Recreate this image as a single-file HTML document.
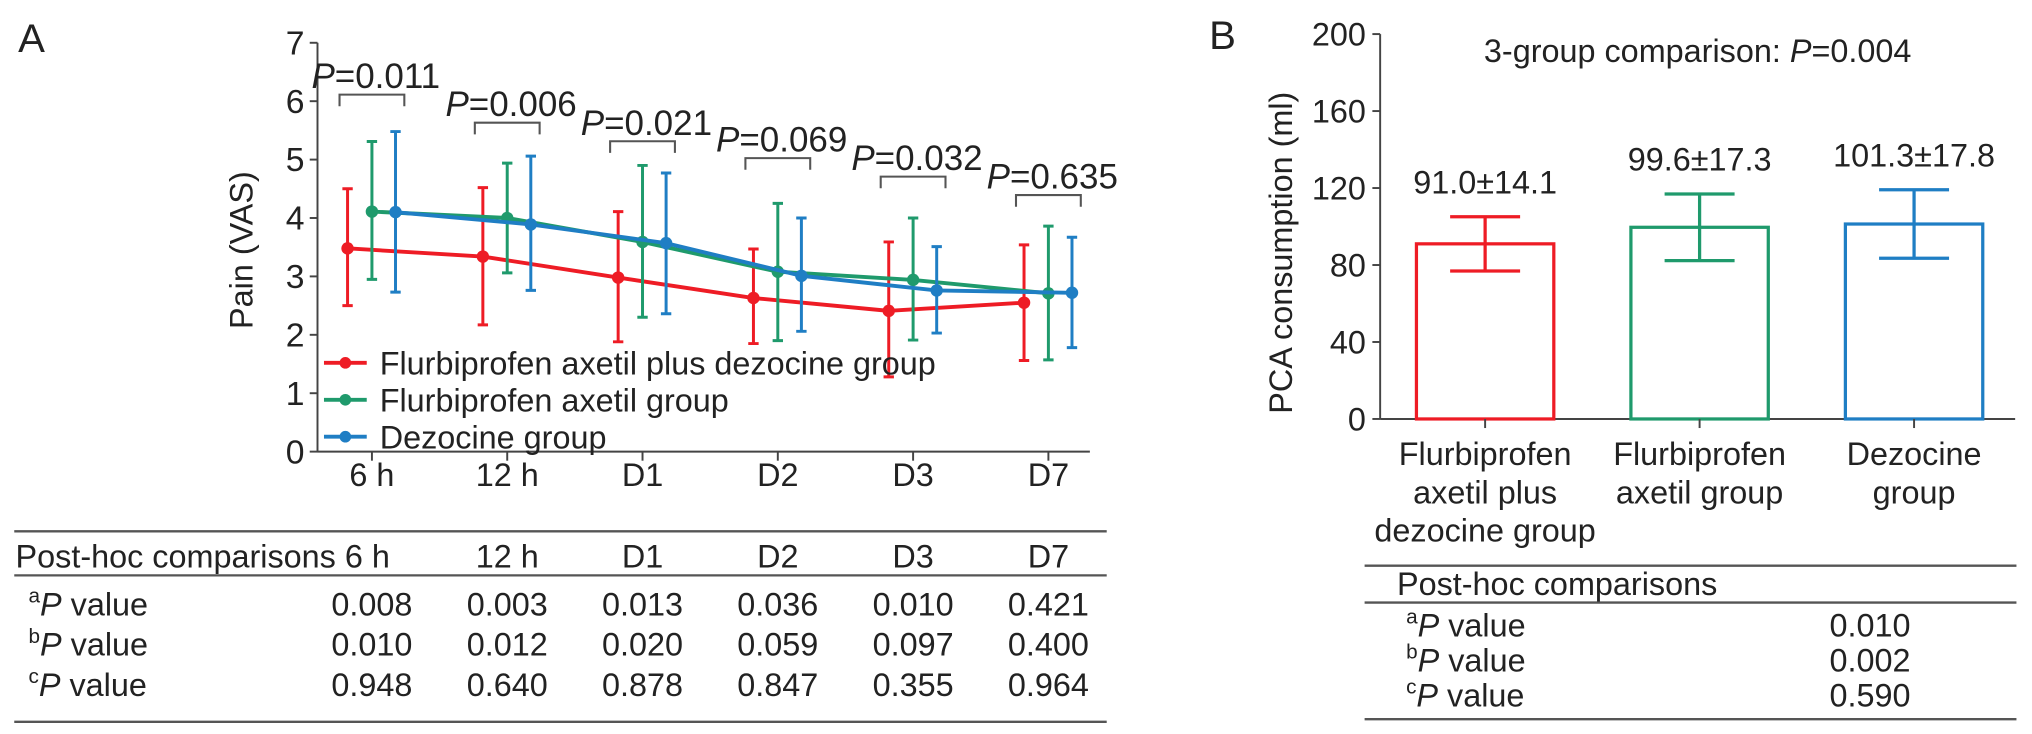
<!DOCTYPE html>
<html><head><meta charset="utf-8">
<style>
html,body{margin:0;padding:0;background:#fff;}
svg{display:block;}
text{font-family:"Liberation Sans",Arial,sans-serif;fill:#222;}
</style></head>
<body>
<svg id="fig" xmlns="http://www.w3.org/2000/svg" width="2032" height="734" viewBox="0 0 1568 566.4" preserveAspectRatio="none">
<g id="panelA"></g>
<g id="panelB"></g>
</svg>
<script>
// ---- Panel A data ----
const timeLabels = ["6 h","12 h","D1","D2","D3","D7"];
const redMean  = [3.48,3.34,2.98,2.63,2.41,2.55];
const redHi    = [4.50,4.52,4.11,3.47,3.59,3.54];
const redLo    = [2.50,2.17,1.88,1.85,1.28,1.56];
const greenMean= [4.11,4.00,3.59,3.08,2.94,2.71];
const greenHi  = [5.31,4.94,4.90,4.25,4.00,3.86];
const greenLo  = [2.95,3.06,2.30,1.90,1.91,1.57];
const blueMean = [4.10,3.89,3.57,3.01,2.76,2.72];
const blueHi   = [5.48,5.06,4.77,4.00,3.51,3.67];
const blueLo   = [2.73,2.76,2.36,2.06,2.03,1.78];
const pLabels  = ["0.011","0.006","0.021","0.069","0.032","0.635"];
const yTicksA  = [0,1,2,3,4,5,6,7];
const legendLabels = ["Flurbiprofen axetil plus dezocine group","Flurbiprofen axetil group","Dezocine group"];
const rowLabels = ["a","b","c"];
const rowA = ["0.008","0.003","0.013","0.036","0.010","0.421"];
const rowB = ["0.010","0.012","0.020","0.059","0.097","0.400"];
const rowC = ["0.948","0.640","0.878","0.847","0.355","0.964"];
// ---- Panel B data ----
const groupNames = [["Flurbiprofen","axetil plus","dezocine group"],["Flurbiprofen","axetil group"],["Dezocine","group"]];
const pcaMean = [91.0,99.6,101.3];
const pcaSD   = [14.1,17.3,17.8];
const pcaLabels = ["91.0±14.1","99.6±17.3","101.3±17.8"];
const yTicksB = [0,40,80,120,160,200];
const postB = ["0.010","0.002","0.590"];

const NS="http://www.w3.org/2000/svg";
const RED="#ee1c25", GREEN="#1f9a6c", BLUE="#1f7ec4", GREY="#444";
const FS=25;
function el(parent,tag,attrs,txt){const e=document.createElementNS(NS,tag);for(const k in attrs)e.setAttribute(k,attrs[k]);if(txt!==undefined)e.textContent=txt;parent.appendChild(e);return e;}

const A=document.getElementById('panelA');
const xA0=245, y0=348.5, yUnit=45.07;
const yA=v=>y0-v*yUnit;
const xA=i=>287+i*104.4;
let t;
t=el(A,'text',{x:14,y:40,'font-size':31});
t.textContent="A";


let ax=el(A,'line',{x1:xA0,y1:yA(7),x2:xA0,y2:y0,stroke:GREY,'stroke-width':1.5});


yTicksA.forEach(v=>{
  el(A,'line',{x1:xA0-6,y1:yA(v),x2:xA0,y2:yA(v),stroke:GREY,'stroke-width':1.5});
  const tl=el(A,'text',{x:xA0-10,y:yA(v)+9,'font-size':26,'text-anchor':'end'},String(v));
  
  
});
t=el(A,'text',{x:0,y:0,'font-size':FS,'text-anchor':'middle',transform:'translate(195,193) rotate(-90)'},"Pain (VAS)");


ax=el(A,'line',{x1:xA0,y1:y0,x2:841,y2:y0,stroke:GREY,'stroke-width':1.5});


timeLabels.forEach((l,i)=>{
  el(A,'line',{x1:xA(i),y1:y0,x2:xA(i),y2:y0+7,stroke:GREY,'stroke-width':1.5});
  const tl=el(A,'text',{x:xA(i),y:375,'font-size':FS,'text-anchor':'middle'},l);
  
  
});
const series=[[redMean,redHi,redLo,RED,-18.8,'red'],[greenMean,greenHi,greenLo,GREEN,0,'green'],[blueMean,blueHi,blueLo,BLUE,18.2,'blue']];
series.forEach(([m,hi,lo,c,off,nm])=>{
  const g=el(A,'g',{});
  
  
  const pts=m.map((v,i)=>(xA(i)+off)+','+yA(v)).join(' ');
  el(g,'polyline',{points:pts,fill:'none',stroke:c,'stroke-width':3});
  m.forEach((v,i)=>{
    const x=xA(i)+off;
    const eb=el(g,'path',{d:`M${x},${yA(hi[i])}V${yA(lo[i])}M${x-4},${yA(hi[i])}H${x+4}M${x-4},${yA(lo[i])}H${x+4}`,stroke:c,'stroke-width':2.3,fill:'none'});
    
    
    const p=el(g,'circle',{cx:x,cy:yA(v),r:4.8,fill:c});
    
    
  });
});
pLabels.forEach((p,i)=>{
  const x=xA(i);
  const yy=[73,94.7,109,122,136.3,150.5][i];
  const b=el(A,'path',{d:`M${x-25},${yy+9}V${yy}H${x+25}V${yy+9}`,stroke:'#555','stroke-width':1.6,fill:'none'});
  
  
  const tx=el(A,'text',{x:x+3,y:yy-5,'font-size':27,'text-anchor':'middle'});
  
  
  el(tx,'tspan',{'font-style':'italic'},'P');
  el(tx,'tspan',{},'='+p);
});
[[RED,legendLabels[0]],[GREEN,legendLabels[1]],[BLUE,legendLabels[2]]].forEach(([c,l],i)=>{
  const y=280+i*28.5;
  const g=el(A,'g',{});
  
  
  el(g,'line',{x1:250,y1:y,x2:283,y2:y,stroke:c,'stroke-width':3});
  el(g,'circle',{cx:266.5,cy:y,r:4.5,fill:c});
  el(g,'text',{x:293,y:y+9,'font-size':FS},l);
});
const tA=el(A,'g',{});


el(tA,'line',{x1:11,y1:410,x2:854,y2:410,stroke:'#555','stroke-width':1.8});
el(tA,'line',{x1:11,y1:444,x2:854,y2:444,stroke:'#555','stroke-width':1.8});
el(tA,'line',{x1:11,y1:557,x2:854,y2:557,stroke:'#555','stroke-width':1.8});
el(tA,'text',{x:12,y:438,'font-size':FS},"Post-hoc comparisons 6 h");
timeLabels.forEach((l,i)=>{ if(i>0) el(tA,'text',{x:xA(i),y:438,'font-size':FS,'text-anchor':'middle'},l); });
[rowA,rowB,rowC].forEach((r,ri)=>{
  const y=[475,506,537][ri];
  const lab=el(tA,'text',{x:22,y:y,'font-size':FS});
  el(lab,'tspan',{'font-size':16,dy:-10},rowLabels[ri]);
  el(lab,'tspan',{'font-style':'italic',dy:10},'P');
  el(lab,'tspan',{},' value');
  r.forEach((v,i)=>el(tA,'text',{x:xA(i),y:y,'font-size':FS,'text-anchor':'middle'},v));
});

// ---- Panel B ----
const B=document.getElementById('panelB');
const xB0=1065, yB0=323.3, yBs=59.4/40;
const yB=v=>yB0-v*yBs;
const xB=i=>1146+i*165.5;
t=el(B,'text',{x:933,y:38,'font-size':31},"B");


ax=el(B,'line',{x1:xB0,y1:yB(200),x2:xB0,y2:yB0,stroke:GREY,'stroke-width':1.5});


yTicksB.forEach(v=>{
  el(B,'line',{x1:xB0-6,y1:yB(v),x2:xB0,y2:yB(v),stroke:GREY,'stroke-width':1.5});
  const tl=el(B,'text',{x:xB0-11,y:yB(v)+9,'font-size':FS,'text-anchor':'end'},String(v));
  
  
});
t=el(B,'text',{x:0,y:0,'font-size':FS,'text-anchor':'middle',transform:'translate(997,195) rotate(-90)'},"PCA consumption (ml)");


ax=el(B,'line',{x1:xB0,y1:yB0,x2:1555,y2:yB0,stroke:GREY,'stroke-width':1.5});


t=el(B,'text',{x:1310,y:48,'font-size':FS,'text-anchor':'middle'});


el(t,'tspan',{},'3-group comparison: ');
el(t,'tspan',{'font-style':'italic'},'P');
el(t,'tspan',{},'=0.004');
const colB=[RED,GREEN,BLUE];
pcaMean.forEach((v,i)=>{
  const x=xB(i), w=106, c=colB[i];
  const bar=el(B,'rect',{x:x-w/2,y:yB(v),width:w,height:yB0-yB(v),fill:'none',stroke:c,'stroke-width':2.5});
  
  
  const eb=el(B,'path',{d:`M${x},${yB(v+pcaSD[i])}V${yB(v-pcaSD[i])}M${x-27},${yB(v+pcaSD[i])}H${x+27}M${x-27},${yB(v-pcaSD[i])}H${x+27}`,stroke:c,'stroke-width':2.5,fill:'none'});
  
  
  const lb=el(B,'text',{x:x,y:yB(v+pcaSD[i])-18,'font-size':FS,'text-anchor':'middle'},pcaLabels[i]);
  
  
  el(B,'line',{x1:x,y1:yB0,x2:x,y2:yB0+7,stroke:GREY,'stroke-width':1.5});
  groupNames[i].forEach((ln,k)=>{
    const gl=el(B,'text',{x:x,y:359+k*29.5,'font-size':FS,'text-anchor':'middle'},ln);
    
    
  });
});
const tB=el(B,'g',{});


el(tB,'line',{x1:1053,y1:436.5,x2:1556,y2:436.5,stroke:'#555','stroke-width':1.8});
el(tB,'line',{x1:1053,y1:465,x2:1556,y2:465,stroke:'#555','stroke-width':1.8});
el(tB,'line',{x1:1053,y1:555,x2:1556,y2:555,stroke:'#555','stroke-width':1.8});
el(tB,'text',{x:1078,y:459,'font-size':FS},"Post-hoc comparisons");
postB.forEach((v,i)=>{
  const y=[491,518,545][i];
  const lab=el(tB,'text',{x:1085,y:y,'font-size':FS});
  el(lab,'tspan',{'font-size':16,dy:-10},rowLabels[i]);
  el(lab,'tspan',{'font-style':'italic',dy:10},'P');
  el(lab,'tspan',{},' value');
  el(tB,'text',{x:1443,y:y,'font-size':FS,'text-anchor':'middle'},v);
});
</script>
</body></html>
